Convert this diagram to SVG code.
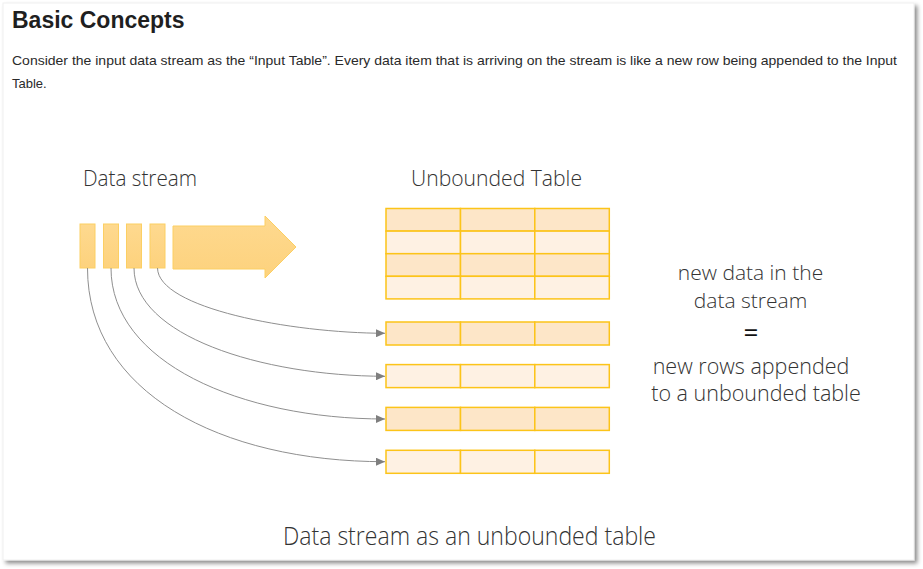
<svg xmlns="http://www.w3.org/2000/svg" width="923" height="569" viewBox="0 0 923 569">
  <defs>
    <filter id="shadow" x="-5%" y="-5%" width="110%" height="110%">
      <feDropShadow dx="3" dy="3" stdDeviation="2" flood-color="#000" flood-opacity="0.45"/>
    </filter>
    <linearGradient id="strm" x1="0" y1="0" x2="0" y2="1">
      <stop offset="0" stop-color="#fed98f"/>
      <stop offset="1" stop-color="#fdd27d"/>
    </linearGradient>
    <marker id="arr" markerWidth="10" markerHeight="8" refX="9" refY="4" orient="auto" markerUnits="userSpaceOnUse">
      <path d="M0,0 L9,4 L0,8 Z" fill="#7f7f7f"/>
    </marker>
    <style>
      .hd { font-family: "Liberation Sans", Arial, sans-serif; font-weight: bold; font-size: 23px; fill: #1f1f1f; }
      .para { font-family: "Liberation Sans", Arial, sans-serif; font-size: 13px; fill: #2a2a2a; }
      .lbl { font-family: "Open Sans", "Noto Sans", sans-serif; font-weight: 300; fill: #333; }
      .blk { fill: url(#strm); stroke: #fccf63; stroke-width: 1; }
      .cell { stroke: #fcc419; stroke-width: 1.5; }
      .dark { fill: #fde6c8; }
      .light { fill: #fef1e3; }
      .conn { fill: none; stroke: #8f8f8f; stroke-width: 1; marker-end: url(#arr); }
    </style>
  </defs>

  <rect x="0" y="0" width="923" height="569" fill="#ffffff"/>
  <rect x="3" y="3" width="911" height="557" fill="#ffffff" stroke="#ececec" stroke-width="0.8" filter="url(#shadow)"/>

  <text class="hd" x="12" y="28">Basic Concepts</text>
  <text class="para" x="12" y="65" textLength="885" lengthAdjust="spacingAndGlyphs">Consider the input data stream as the “Input Table”. Every data item that is arriving on the stream is like a new row being appended to the Input</text>
  <text class="para" x="12" y="88">Table.</text>

  <g id="data-stream">
    <text class="lbl" x="83" y="186" font-size="22" textLength="114" lengthAdjust="spacingAndGlyphs">Data stream</text>
    <rect class="blk" x="80" y="224" width="15" height="44"/>
    <rect class="blk" x="103.5" y="224" width="15" height="44"/>
    <rect class="blk" x="126.5" y="224" width="15" height="44"/>
    <rect class="blk" x="150" y="224" width="15" height="44"/>
    <path class="blk" d="M173,226 L265,226 L265,216 L296,247 L265,278 L265,269 L173,269 Z"/>
  </g>

  <g id="unbounded-table">
    <text class="lbl" x="411" y="186" font-size="22" textLength="171" lengthAdjust="spacingAndGlyphs">Unbounded Table</text>
    <rect class="cell dark" x="386" y="208.5" width="74.5" height="22.6"/>
    <rect class="cell dark" x="460.5" y="208.5" width="74.3" height="22.6"/>
    <rect class="cell dark" x="534.8" y="208.5" width="74.5" height="22.6"/>
    <rect class="cell light" x="386" y="231.1" width="74.5" height="22.6"/>
    <rect class="cell light" x="460.5" y="231.1" width="74.3" height="22.6"/>
    <rect class="cell light" x="534.8" y="231.1" width="74.5" height="22.6"/>
    <rect class="cell dark" x="386" y="253.7" width="74.5" height="22.6"/>
    <rect class="cell dark" x="460.5" y="253.7" width="74.3" height="22.6"/>
    <rect class="cell dark" x="534.8" y="253.7" width="74.5" height="22.6"/>
    <rect class="cell light" x="386" y="276.3" width="74.5" height="22.6"/>
    <rect class="cell light" x="460.5" y="276.3" width="74.3" height="22.6"/>
    <rect class="cell light" x="534.8" y="276.3" width="74.5" height="22.6"/>
  </g>

  <g id="new-row-1">
    <rect class="cell dark" x="386" y="322" width="74.5" height="23"/>
    <rect class="cell dark" x="460.5" y="322" width="74.3" height="23"/>
    <rect class="cell dark" x="534.8" y="322" width="74.5" height="23"/>
  </g>
  <g id="new-row-2">
    <rect class="cell light" x="386" y="364.6" width="74.5" height="23"/>
    <rect class="cell light" x="460.5" y="364.6" width="74.3" height="23"/>
    <rect class="cell light" x="534.8" y="364.6" width="74.5" height="23"/>
  </g>
  <g id="new-row-3">
    <rect class="cell dark" x="386" y="407.4" width="74.5" height="23"/>
    <rect class="cell dark" x="460.5" y="407.4" width="74.3" height="23"/>
    <rect class="cell dark" x="534.8" y="407.4" width="74.5" height="23"/>
  </g>
  <g id="new-row-4">
    <rect class="cell light" x="386" y="450.3" width="74.5" height="23"/>
    <rect class="cell light" x="460.5" y="450.3" width="74.3" height="23"/>
    <rect class="cell light" x="534.8" y="450.3" width="74.5" height="23"/>
  </g>

  <g id="connectors">
    <path class="conn" d="M157.5,268 C158,308 290,333 385,333.3"/>
    <path class="conn" d="M134,268 C134,335 260,376 385,376.3"/>
    <path class="conn" d="M111,268 C111,362 240,419 385,419"/>
    <path class="conn" d="M87.5,268 C87.5,392 220,461.7 385,461.7"/>
  </g>

  <g id="equation">
    <text class="lbl" x="750.5" y="280" font-size="21" text-anchor="middle">new data in the</text>
    <text class="lbl" x="750.5" y="308" font-size="21" text-anchor="middle">data stream</text>
    <text x="751" y="342" font-size="26" text-anchor="middle" font-family="Open Sans, Noto Sans, sans-serif" fill="#111">=</text>
    <text class="lbl" x="751" y="374" font-size="21.5" text-anchor="middle">new rows appended</text>
    <text class="lbl" x="756" y="401" font-size="21.5" text-anchor="middle">to a unbounded table</text>
  </g>

  <text class="lbl" x="469.5" y="545" font-size="25" text-anchor="middle" textLength="373" lengthAdjust="spacingAndGlyphs">Data stream as an unbounded table</text>
</svg>
